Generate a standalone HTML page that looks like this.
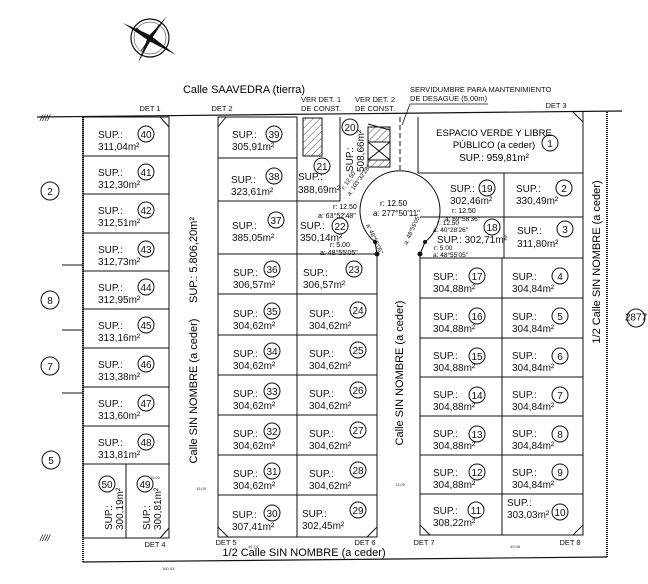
<!DOCTYPE html>
<html><head><meta charset="utf-8"><style>
html,body{margin:0;padding:0;background:#fff;}
svg{display:block;font-family:"Liberation Sans",Arial,sans-serif;}
.s{font-size:10px;fill:#111}
.n{font-size:10px;fill:#111;text-anchor:middle}
.d{font-size:4px;fill:#333}
.l{font-size:7.5px;fill:#111}
</style></head><body>
<svg width="648" height="584" viewBox="0 0 648 584" xmlns="http://www.w3.org/2000/svg">
<defs>
<pattern id="h" width="5" height="5" patternUnits="userSpaceOnUse" patternTransform="rotate(45)"><line x1="0" y1="0" x2="0" y2="5" stroke="#222" stroke-width="0.8"/></pattern>
</defs>
<!-- compass -->
<g stroke="#111" fill="none">
<circle cx="150" cy="38" r="19" stroke-width="1.2"/>
<circle cx="150" cy="38" r="16" stroke-width="0.5"/>
</g>
<polygon points="123,23 150,35 176,55 149,41" fill="#111"/>
<polygon points="167,16 152,38 138,63 148,37" fill="#111"/>
<line x1="136" y1="28" x2="164" y2="48" stroke="#111" stroke-width="1"/>
<line x1="141" y1="51" x2="159" y2="25" stroke="#111" stroke-width="0.8"/>

<!-- top street -->
<text x="244" y="93" font-size="11" text-anchor="middle">Calle SAAVEDRA (tierra)</text>
<line x1="37" y1="117" x2="622" y2="111" stroke="#111" stroke-width="1.2"/>
<text x="40" y="121" font-size="9" font-style="italic">////</text>
<text x="40" y="541" font-size="9" font-style="italic">////</text>
<text x="150" y="111" class="l" text-anchor="middle">DET 1</text>
<text x="222" y="111" class="l" text-anchor="middle">DET 2</text>
<text x="321" y="102" class="l" text-anchor="middle">VER DET. 1</text>
<text x="321" y="111" class="l" text-anchor="middle">DE CONST.</text>
<text x="375" y="102" class="l" text-anchor="middle">VER DET. 2</text>
<text x="375" y="111" class="l" text-anchor="middle">DE CONST.</text>
<text x="410" y="92" class="l" font-size="7">SERVIDUMBRE PARA MANTENIMIENTO</text>
<text x="410" y="101" class="l" font-size="7">DE DESAGÜE (5,00m)</text>
<polyline points="488,104 410,104 402,125" fill="none" stroke="#111" stroke-width="0.8"/>
<text x="556" y="108" class="l" text-anchor="middle">DET 3</text>

<!-- boundaries -->
<line x1="83" y1="117" x2="83" y2="562" stroke="#111" stroke-width="2" stroke-dasharray="1,1"/>
<line x1="607" y1="112" x2="607" y2="558" stroke="#111" stroke-width="2" stroke-dasharray="1,1"/>
<line x1="83" y1="562" x2="607" y2="557" stroke="#111" stroke-width="1.2"/>
<line x1="62" y1="265" x2="83" y2="265" stroke="#111"/>
<line x1="62" y1="330" x2="83" y2="330" stroke="#111"/>
<line x1="62" y1="393" x2="83" y2="393" stroke="#111"/>
<g fill="#fff" stroke="#111" stroke-width="1"><circle cx="50" cy="191" r="9"/><circle cx="50" cy="300" r="9"/><circle cx="50" cy="366" r="9"/><circle cx="51" cy="460" r="9"/><circle cx="636" cy="318" r="9"/></g>
<text x="50" y="195" class="n">2</text><text x="50" y="304" class="n">8</text><text x="50" y="370" class="n">7</text><text x="51" y="464" class="n">5</text><text x="636" y="320.5" class="n" font-size="7">2877</text>

<!-- lines -->
<g stroke="#111" stroke-width="1" fill="none">
<rect x="83" y="117" width="86" height="421"/>
<path d="M83 156H169M83 194H169M83 233H169M83 271H169M83 309H169M83 348H169M83 387H169M83 426H169M83 464H169M126 464V538"/>
<rect x="218" y="117" width="79" height="420"/>
<path d="M218 158H297M218 201H297M218 254H297M218 294H297M218 335H297M218 375H297M218 415H297M218 455H297M218 495H297"/>
<path d="M297 117V537H377V254M297 254H377M297 294H377M297 335H377M297 375H377M297 415H377M297 455H377M297 495H377"/>
<path d="M297 201H340V117M297 201V254M340 201V190"/>
<path d="M375 242 A40 40 0 1 1 425 242"/>
<path d="M375 242L377 254M425 242L420 254"/>
<path d="M420 254V535H583V112M418 117V173M418 173H583M420 217H583M420 258H583M504 173V258M502 258V535M420 298H583M420 338H583M420 377H583M420 416H583M420 455H583M420 494H583"/>
<path d="M169 528L160 538M218 527L228 537M377 527L367 537M420 525L430 535M583 525L573 535M169 127L160 117M218 127L226 117M583 122L573 112"/>
</g>
<line x1="400" y1="117" x2="400" y2="172" stroke="#111" stroke-dasharray="5,3"/>
<g fill="#111"><circle cx="377" cy="254" r="2.5"/><circle cx="420" cy="254" r="2.5"/><circle cx="375" cy="242" r="2"/><circle cx="425" cy="242" r="2"/></g>
<rect x="303" y="118" width="19" height="38" fill="url(#h)" stroke="#111"/>
<rect x="368" y="127" width="22" height="40" fill="url(#h)" stroke="#111"/>
<rect x="368" y="142" width="22" height="18" fill="#fff" stroke="#111"/>
<path d="M368 142L390 160M390 142L368 160M368 124L390 130" stroke="#111"/>

<!-- street labels -->
<text transform="translate(197,260) rotate(-90)" font-size="11" text-anchor="middle">SUP.: 5.806,20m²</text>
<text transform="translate(197,391) rotate(-90)" font-size="11" text-anchor="middle">Calle SIN NOMBRE (a ceder)</text>
<text transform="translate(403,373) rotate(-90)" font-size="11" text-anchor="middle">Calle SIN NOMBRE (a ceder)</text>
<text transform="translate(600,262) rotate(-90)" font-size="11" text-anchor="middle">1/2 Calle SIN NOMBRE (a ceder)</text>
<text x="304" y="556" font-size="11" text-anchor="middle">1/2 Calle SIN NOMBRE (a ceder)</text>
<text x="155" y="547" class="l" text-anchor="middle">DET 4</text>
<text x="226" y="545" class="l" text-anchor="middle">DET 5</text>
<text x="365" y="545" class="l" text-anchor="middle">DET 6</text>
<text x="424" y="545" class="l" text-anchor="middle">DET 7</text>
<text x="570" y="545" class="l" text-anchor="middle">DET 8</text>
<text x="162" y="570" class="d">160,43</text>
<text x="510" y="548" class="d">49,98</text>
<text x="248" y="548" class="d">46,74</text>
<text x="150" y="479" class="d">15,00</text>
<text x="196" y="490" class="d">15,00</text>
<text x="395" y="486" class="d">13,00</text>

<!-- circles for lot numbers -->
<g fill="#fff" stroke="#111">
<circle cx="146" cy="134" r="8"/><circle cx="146" cy="172" r="8"/><circle cx="146" cy="210" r="8"/><circle cx="146" cy="249" r="8"/><circle cx="146" cy="287" r="8"/><circle cx="146" cy="325" r="8"/><circle cx="146" cy="364" r="8"/><circle cx="146" cy="403" r="8"/><circle cx="146" cy="442" r="8"/>
<circle cx="107" cy="484" r="8"/><circle cx="145" cy="484" r="8"/>
<circle cx="274" cy="134" r="8"/><circle cx="274" cy="176" r="8"/><circle cx="276" cy="220" r="8"/><circle cx="272" cy="269" r="8"/><circle cx="272" cy="311" r="8"/><circle cx="272" cy="351" r="8"/><circle cx="272" cy="391" r="8"/><circle cx="272" cy="431" r="8"/><circle cx="272" cy="471" r="8"/><circle cx="272" cy="513" r="8"/>
<circle cx="322" cy="166" r="8"/><circle cx="350" cy="127" r="8"/><circle cx="340" cy="226" r="8"/>
<circle cx="354" cy="269" r="8"/><circle cx="358" cy="310" r="8"/><circle cx="358" cy="350" r="8"/><circle cx="358" cy="390" r="8"/><circle cx="358" cy="430" r="8"/><circle cx="358" cy="470" r="8"/><circle cx="358" cy="510" r="8"/>
<circle cx="550" cy="143" r="8"/><circle cx="487" cy="188" r="8"/><circle cx="564" cy="188" r="8"/><circle cx="492" cy="227" r="8"/><circle cx="565" cy="229" r="8"/>
<circle cx="477" cy="276" r="8"/><circle cx="477" cy="316" r="8"/><circle cx="477" cy="356" r="8"/><circle cx="477" cy="395" r="8"/><circle cx="477" cy="434" r="8"/><circle cx="477" cy="472" r="8"/><circle cx="476" cy="510" r="8"/>
<circle cx="560" cy="276" r="8"/><circle cx="560" cy="316" r="8"/><circle cx="560" cy="356" r="8"/><circle cx="560" cy="395" r="8"/><circle cx="560" cy="434" r="8"/><circle cx="560" cy="472" r="8"/><circle cx="560" cy="512" r="8"/>
</g>
<g>
<text x="146" y="138" class="n">40</text><text x="146" y="176" class="n">41</text><text x="146" y="214" class="n">42</text><text x="146" y="253" class="n">43</text><text x="146" y="291" class="n">44</text><text x="146" y="329" class="n">45</text><text x="146" y="368" class="n">46</text><text x="146" y="407" class="n">47</text><text x="146" y="446" class="n">48</text>
<text x="107" y="488" class="n">50</text><text x="145" y="488" class="n">49</text>
<text x="274" y="138" class="n">39</text><text x="274" y="180" class="n">38</text><text x="276" y="224" class="n">37</text><text x="272" y="273" class="n">36</text><text x="272" y="315" class="n">35</text><text x="272" y="355" class="n">34</text><text x="272" y="395" class="n">33</text><text x="272" y="435" class="n">32</text><text x="272" y="475" class="n">31</text><text x="272" y="517" class="n">30</text>
<text x="322" y="170" class="n">21</text><text x="350" y="131" class="n">20</text><text x="340" y="230" class="n">22</text>
<text x="354" y="273" class="n">23</text><text x="358" y="314" class="n">24</text><text x="358" y="354" class="n">25</text><text x="358" y="394" class="n">26</text><text x="358" y="434" class="n">27</text><text x="358" y="474" class="n">28</text><text x="358" y="514" class="n">29</text>
<text x="550" y="147" class="n">1</text><text x="487" y="192" class="n">19</text><text x="564" y="192" class="n">2</text><text x="492" y="231" class="n">18</text><text x="565" y="233" class="n">3</text>
<text x="477" y="280" class="n">17</text><text x="477" y="320" class="n">16</text><text x="477" y="360" class="n">15</text><text x="477" y="399" class="n">14</text><text x="477" y="438" class="n">13</text><text x="477" y="476" class="n">12</text><text x="476" y="514" class="n">11</text>
<text x="560" y="280" class="n">4</text><text x="560" y="320" class="n">5</text><text x="560" y="360" class="n">6</text><text x="560" y="399" class="n">7</text><text x="560" y="438" class="n">8</text><text x="560" y="476" class="n">9</text><text x="560" y="516" class="n">10</text>
</g>

<!-- left block texts -->
<g class="s">
<text x="98" y="138">SUP.:</text><text x="98" y="150">311,04m²</text>
<text x="98" y="176">SUP.:</text><text x="98" y="188">312,30m²</text>
<text x="98" y="214">SUP.:</text><text x="98" y="226">312,51m²</text>
<text x="98" y="253">SUP.:</text><text x="98" y="265">312,73m²</text>
<text x="98" y="291">SUP.:</text><text x="98" y="303">312,95m²</text>
<text x="98" y="329">SUP.:</text><text x="98" y="341">313,16m²</text>
<text x="98" y="368">SUP.:</text><text x="98" y="380">313,38m²</text>
<text x="98" y="407">SUP.:</text><text x="98" y="419">313,60m²</text>
<text x="98" y="446">SUP.:</text><text x="98" y="458">313,81m²</text>
</g>
<text transform="translate(112,530) rotate(-90)" class="s">SUP.:</text>
<text transform="translate(123,530) rotate(-90)" class="s">300,19m²</text>
<text transform="translate(150,530) rotate(-90)" class="s">SUP.:</text>
<text transform="translate(161,530) rotate(-90)" class="s">300,81m²</text>

<!-- block 2 -->
<g class="s">
<text x="232" y="138">SUP.:</text><text x="232" y="150">305,91m²</text>
<text x="231" y="183">SUP.:</text><text x="231" y="195">323,61m²</text>
<text x="232" y="229">SUP.:</text><text x="232" y="241">385,05m²</text>
<text x="233" y="276">SUP.:</text><text x="233" y="288">306,57m²</text>
<text x="233" y="317">SUP.:</text><text x="233" y="329">304,62m²</text>
<text x="233" y="357">SUP.:</text><text x="233" y="369">304,62m²</text>
<text x="233" y="397">SUP.:</text><text x="233" y="409">304,62m²</text>
<text x="233" y="437">SUP.:</text><text x="233" y="449">304,62m²</text>
<text x="233" y="477">SUP.:</text><text x="233" y="489">304,62m²</text>
<text x="232" y="518">SUP.:</text><text x="232" y="530">307,41m²</text>
<text x="298" y="180">SUP.:</text><text x="298" y="193">388,69m²</text>
<text x="300" y="229">SUP.:</text><text x="300" y="241">350,14m²</text>
<text x="303" y="276">SUP.:</text><text x="303" y="288">306,57m²</text>
<text x="309" y="317">SUP.:</text><text x="309" y="329">304,62m²</text>
<text x="309" y="357">SUP.:</text><text x="309" y="369">304,62m²</text>
<text x="309" y="397">SUP.:</text><text x="309" y="409">304,62m²</text>
<text x="309" y="437">SUP.:</text><text x="309" y="449">304,62m²</text>
<text x="309" y="477">SUP.:</text><text x="309" y="489">304,62m²</text>
<text x="302" y="517">SUP.:</text><text x="302" y="529">302,45m²</text>
</g>
<text transform="translate(353,172) rotate(-90)" class="s">SUP.:</text>
<text transform="translate(364,172) rotate(-90)" class="s">508,66m²</text>
<text x="333" y="209" font-size="7">r: 12.50</text><text x="318" y="218" font-size="7">a: 63°52'48"</text>
<text x="330" y="247" font-size="7">r: 5.00</text><text x="320" y="255" font-size="7">a: 48°55'05"</text>
<text x="380" y="206" font-size="8">r: 12.50</text><text x="373" y="216" font-size="8">a: 277°50'11"</text>
<text transform="translate(344,190) rotate(-55)" font-size="6">r: 12.50</text>
<text transform="translate(350,196) rotate(-55)" font-size="6">a: 103°32'28"</text>
<text transform="translate(366,225) rotate(65)" font-size="6">a: 48°55'05"</text>
<text transform="translate(407,245) rotate(-65)" font-size="6">a: 48°55'05"</text>

<!-- right block -->
<text x="494" y="136" font-size="9.5" text-anchor="middle">ESPACIO VERDE Y LIBRE</text>
<text x="494" y="148" font-size="9.5" text-anchor="middle">PÚBLICO (a ceder)</text>
<text x="494" y="161" font-size="10" text-anchor="middle">SUP.: 959,81m²</text>
<g class="s">
<text x="450" y="192">SUP.:</text><text x="450" y="204">302,46m²</text>
<text x="516" y="192">SUP.:</text><text x="516" y="204">330,49m²</text>
<text x="437" y="243">SUP.: 302,71m²</text>
<text x="517" y="234">SUP.:</text><text x="517" y="247">311,80m²</text>
<text x="433" y="280">SUP.:</text><text x="433" y="292">304,88m²</text>
<text x="433" y="320">SUP.:</text><text x="433" y="332">304,88m²</text>
<text x="433" y="359">SUP.:</text><text x="433" y="371">304,88m²</text>
<text x="433" y="398">SUP.:</text><text x="433" y="410">304,88m²</text>
<text x="433" y="437">SUP.:</text><text x="433" y="449">304,88m²</text>
<text x="433" y="476">SUP.:</text><text x="433" y="488">304,88m²</text>
<text x="433" y="514">SUP.:</text><text x="433" y="526">308,22m²</text>
<text x="512" y="280">SUP.:</text><text x="512" y="292">304,84m²</text>
<text x="512" y="320">SUP.:</text><text x="512" y="332">304,84m²</text>
<text x="512" y="359">SUP.:</text><text x="512" y="371">304,84m²</text>
<text x="512" y="398">SUP.:</text><text x="512" y="410">304,84m²</text>
<text x="512" y="437">SUP.:</text><text x="512" y="449">304,84m²</text>
<text x="512" y="476">SUP.:</text><text x="512" y="488">304,84m²</text>
<text x="507" y="506">SUP.:</text><text x="507" y="518">303,03m²</text>
</g>
<text x="452" y="213" font-size="7">r: 12.50</text><text x="445" y="221" font-size="6.5">a: 69°58'36"</text>
<text x="437" y="225" font-size="6.5">r: 12.50</text><text x="433" y="232" font-size="6.5">a: 40°28'26"</text>
<text x="434" y="250" font-size="6.5">r: 5.00</text><text x="433" y="257" font-size="6.5">a: 48°55'05"</text>
</svg>
</body></html>
